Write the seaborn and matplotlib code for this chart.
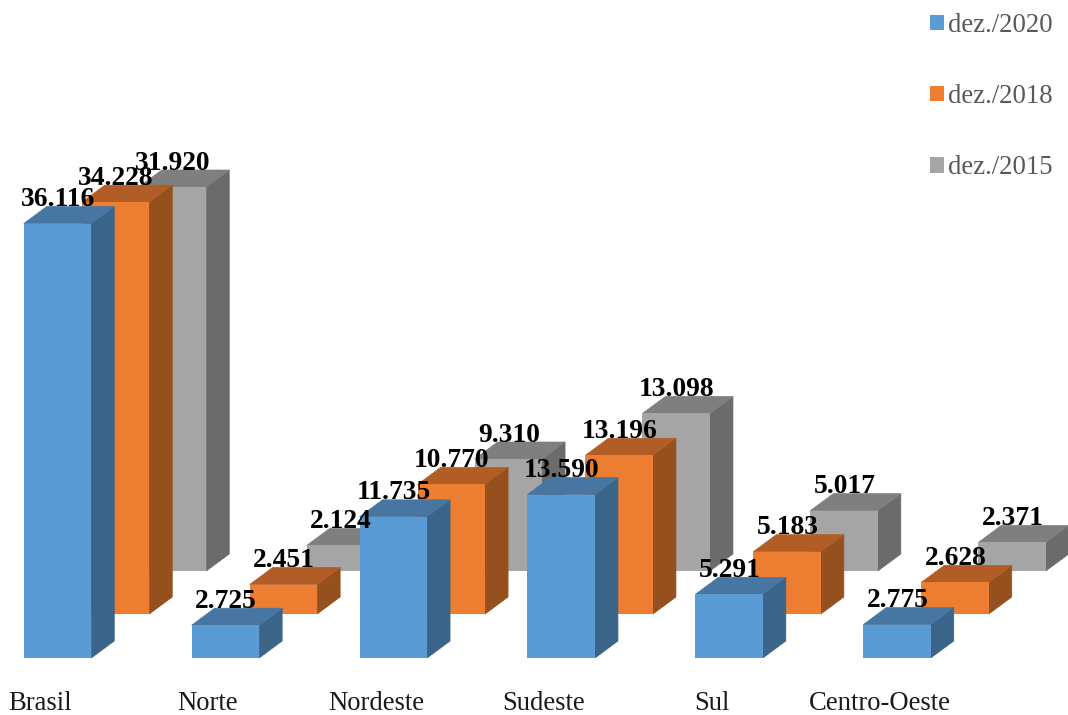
import matplotlib
matplotlib.use("Agg")
import matplotlib.pyplot as plt
from matplotlib.patches import Patch, Polygon
import numpy as np
import seaborn as sns

categories = ["Brasil", "Norte", "Nordeste", "Sudeste", "Sul", "Centro-Oeste"]
series_names = ["dez./2020", "dez./2018", "dez./2015"]
values_2020 = [36116, 2725, 11735, 13590, 5291, 2775]
values_2018 = [34228, 2451, 10770, 13196, 5183, 2628]
values_2015 = [31920, 2124, 9310, 13098, 5017, 2371]

# face colours per series: front, top, side
front_colors = ["#5B9BD5", "#ED7D31", "#A5A5A5"]
top_colors = ["#4776A3", "#B25D25", "#7F7F7F"]
side_colors = ["#3A6488", "#95501D", "#6B6B6B"]

W, H = 1068, 715
PX_PER_UNIT = 0.01203      # vertical pixels per data unit
PX_PER_CAT = 167.9         # horizontal pixels per category
BASE_PX = 658              # pixel row of the value-axis zero
FIRST_CENTER_PX = 57.5

bar_width = 67.5 / PX_PER_CAT
depth_x = 23 / PX_PER_CAT
depth_y = 17 / PX_PER_UNIT
# oblique shift of each row going backwards along the depth axis
row_shift_x = [0, 58 / PX_PER_CAT, 115 / PX_PER_CAT]
row_shift_y = [0, 44 / PX_PER_UNIT, 87 / PX_PER_UNIT]

sns.set_theme(style="white")
plt.rcParams["font.family"] = ["Liberation Serif", "DejaVu Serif"]

fig = plt.figure(figsize=(W / 100, H / 100), dpi=100)
ax = fig.add_axes([0, (H - BASE_PX) / H, 1, BASE_PX / H])
ax.patch.set_alpha(0)

positions = np.arange(len(categories), dtype=float)
all_values = [values_2020, values_2018, values_2015]

# back rows are drawn first so nearer rows overlap them
for row in (2, 1, 0):
    vals = np.asarray(all_values[row], dtype=float)
    xs = positions + row_shift_x[row]
    before = len(ax.patches)
    sns.barplot(x=xs, y=vals, ax=ax, native_scale=True, width=bar_width,
                color=front_colors[row], saturation=1, linewidth=0,
                bottom=row_shift_y[row], errorbar=None, legend=False)
    for bar in ax.patches[before:]:
        x0, x1 = bar.get_x(), bar.get_x() + bar.get_width()
        y0, y1 = bar.get_y(), bar.get_y() + bar.get_height()
        zorder = 10 - 3 * row
        bar.set_zorder(zorder + 1)
        side = Polygon([(x1, y0), (x1 + depth_x, y0 + depth_y),
                        (x1 + depth_x, y1 + depth_y), (x1, y1)],
                       closed=True, facecolor=side_colors[row],
                       edgecolor=side_colors[row], linewidth=0.5, zorder=zorder)
        top = Polygon([(x0, y1), (x0 + depth_x, y1 + depth_y),
                       (x1 + depth_x, y1 + depth_y), (x1, y1)],
                      closed=True, facecolor=top_colors[row],
                      edgecolor=top_colors[row], linewidth=0.5, zorder=zorder)
        ax.add_patch(side)
        ax.add_patch(top)

# value labels sit above the top face of each block
for row in (2, 1, 0):
    for x, v in zip(positions + row_shift_x[row], all_values[row]):
        label = f"{v:,}".replace(",", ".")
        ax.annotate(label, (x, v + row_shift_y[row]), xytext=(0.4, 17.2),
                    textcoords="offset points", ha="center", va="center",
                    fontsize=19.8, fontweight="bold", color="black", zorder=30)

ax.set_xlim(-FIRST_CENTER_PX / PX_PER_CAT, (W - FIRST_CENTER_PX) / PX_PER_CAT)
ax.set_ylim(0, BASE_PX / PX_PER_UNIT)
ax.set_yticks([])
ax.set_ylabel("")
ax.set_xlabel("")
ax.set_xticks(positions - 0.104)
ax.set_xticklabels(categories, fontsize=19.2, color="#1a1a1a")
ax.tick_params(axis="x", length=0, pad=23.5)
sns.despine(ax=ax, left=True, bottom=True, top=True, right=True)
ax.grid(False)

handles = [Patch(facecolor=c, edgecolor="none") for c in front_colors]
fig.legend(handles, series_names, loc="upper right",
           bbox_to_anchor=(1053 / W, 1 - 13 / H),
           frameon=False, fontsize=19.3, labelcolor="#595959", handlelength=0.52,
           handleheight=0.52, handletextpad=0.15, labelspacing=1.72,
           borderaxespad=0, borderpad=0)

fig.savefig("out.png", dpi=100)
